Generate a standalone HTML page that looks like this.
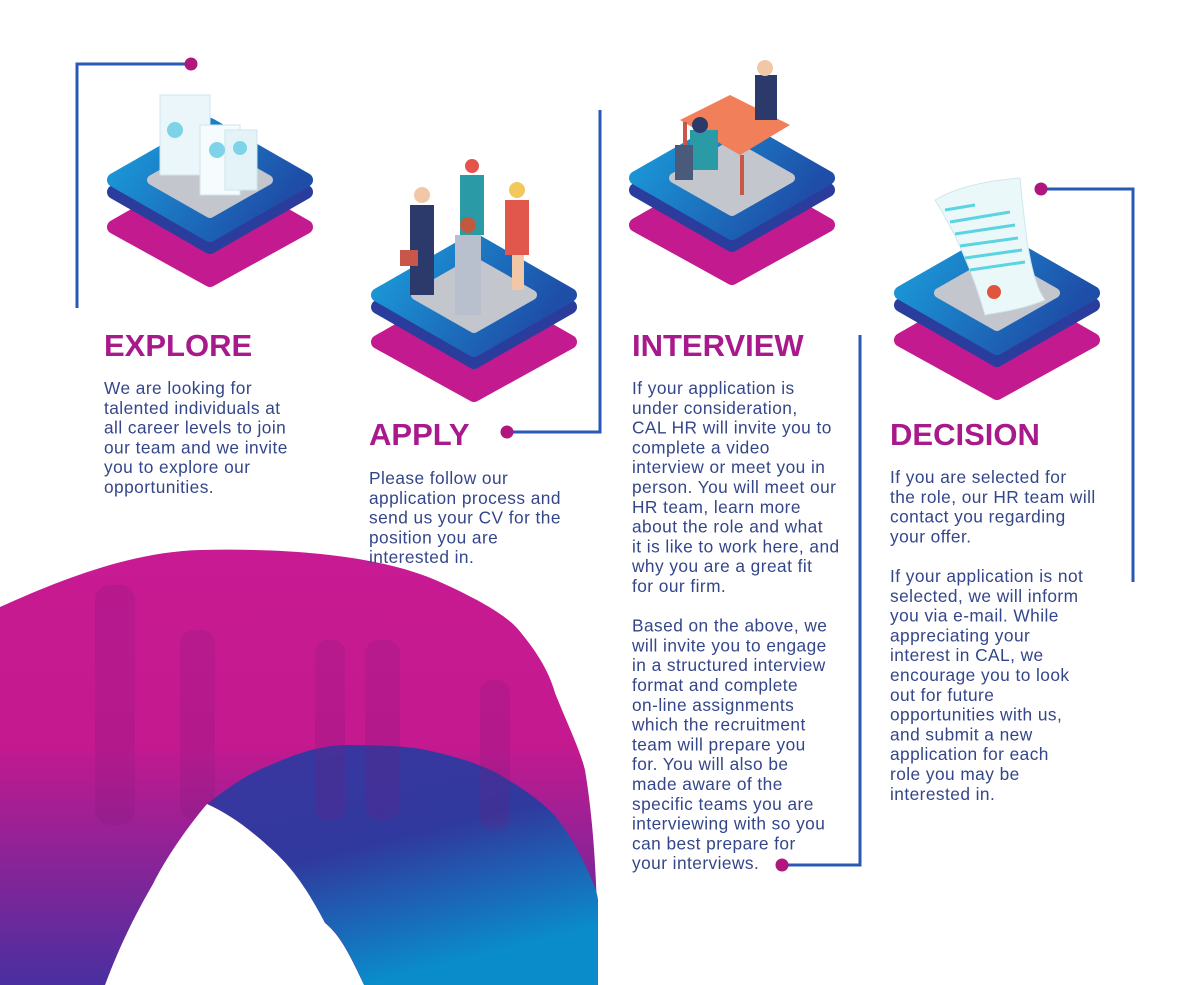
<!DOCTYPE html>
<html><head><meta charset="utf-8"><style>
html,body{margin:0;padding:0;background:#fff;}
svg{display:block;}
.h{font-family:"Liberation Sans",sans-serif;font-weight:bold;font-size:31px;fill:#a8198b;}
.b{font-family:"Liberation Sans",sans-serif;font-size:17.3px;letter-spacing:0.45px;fill:#34468a;}
</style></head><body>
<svg width="1200" height="985" viewBox="0 0 1200 985" xmlns="http://www.w3.org/2000/svg">
<defs>
<linearGradient id="mag" x1="0" y1="0" x2="0" y2="1">
<stop offset="0" stop-color="#c81a92"/><stop offset="0.45" stop-color="#c4198f"/><stop offset="1" stop-color="#4a2fa0"/>
</linearGradient>
<linearGradient id="blu" x1="0" y1="0" x2="0.4" y2="1">
<stop offset="0" stop-color="#3b36a0"/><stop offset="0.5" stop-color="#30399e"/><stop offset="1" stop-color="#0a8ccb"/>
</linearGradient>
<linearGradient id="top" x1="0" y1="0" x2="1" y2="0.4">
<stop offset="0" stop-color="#1aa0dc"/><stop offset="1" stop-color="#1e4ea8"/>
</linearGradient>
<g id="plat">
<polygon points="7,47 103,-8 199,47 103,100" fill="#c41a8f" stroke="#c41a8f" stroke-width="14" stroke-linejoin="round"/>
<polygon points="7,12 103,-43 199,12 103,67" fill="#2b3d9c" stroke="#2b3d9c" stroke-width="14" stroke-linejoin="round"/>
<polygon points="7,0 103,-55 199,0 103,55" fill="url(#top)" stroke="url(#top)" stroke-width="14" stroke-linejoin="round"/>
<polygon points="45,0 103,-33 161,0 103,33" fill="#c3c6cc" stroke="#c3c6cc" stroke-width="10" stroke-linejoin="round"/>
</g>
</defs>

<!-- bottom-left graphic -->
<path d="M0,607 C60,580 130,552 200,550 C290,548 380,555 440,582 C480,600 505,615 517,628 C540,655 550,675 555,693 C570,730 580,750 585,770 C595,830 598,900 598,985 L0,985 Z" fill="url(#mag)"/>
<path d="M207,804 C225,790 245,775 268,766 C300,752 320,746 344,745 C380,745 400,746 421,749 C450,755 475,762 497,773 C525,790 540,800 555,816 C570,835 578,850 585,865 C592,880 597,890 598,900 L598,985 L364,985 C345,940 330,925 325,923 C305,885 290,865 268,846 C245,825 225,812 207,804 Z" fill="url(#blu)"/>
<g fill="#7a1a7e" opacity="0.2">
<rect x="95" y="585" width="40" height="240" rx="15"/>
<rect x="180" y="630" width="35" height="190" rx="14"/>
<rect x="315" y="640" width="30" height="180" rx="12"/>
<rect x="365" y="640" width="35" height="180" rx="14"/>
<rect x="480" y="680" width="30" height="150" rx="12"/>
</g>
<path d="M207,804 C185,830 165,860 153,884 C135,915 120,945 105,985 L364,985 C350,955 340,935 325,923 C305,885 290,865 268,846 C245,825 225,812 207,804 Z" fill="#fff"/>

<!-- connectors -->
<g stroke="#2a58b5" stroke-width="3" fill="none">
<polyline points="77,308 77,64 190,64"/>
<polyline points="507,432 600,432 600,110"/>
<polyline points="860,335 860,865 782,865"/>
<polyline points="1041,189 1133,189 1133,582"/>
</g>
<g fill="#b0177e">
<circle cx="191" cy="64" r="6.5"/>
<circle cx="507" cy="432" r="6.5"/>
<circle cx="782" cy="865" r="6.5"/>
<circle cx="1041" cy="189" r="6.5"/>
</g>

<!-- platforms -->
<use href="#plat" x="107" y="180"/>
<use href="#plat" x="371" y="295"/>
<use href="#plat" x="629" y="178"/>
<use href="#plat" x="894" y="293"/>

<!-- illustrations: explore docs -->
<g>
<rect x="160" y="95" width="50" height="80" fill="#eaf6fa" stroke="#cfe6ee"/>
<rect x="200" y="125" width="40" height="70" fill="#f6fbfd" stroke="#cfe6ee"/>
<rect x="225" y="130" width="32" height="60" fill="#e3f3f7" stroke="#cfe6ee"/>
<circle cx="175" cy="130" r="8" fill="#7dd3e8"/>
<circle cx="217" cy="150" r="8" fill="#7dd3e8"/>
<circle cx="240" cy="148" r="7" fill="#7dd3e8"/>
</g>
<!-- apply people -->
<g>
<rect x="410" y="205" width="24" height="90" fill="#2b3a6a"/><circle cx="422" cy="195" r="8" fill="#f2c7a8"/>
<rect x="400" y="250" width="18" height="16" fill="#c8574a"/>
<rect x="460" y="175" width="24" height="60" fill="#2a9aa6"/><circle cx="472" cy="166" r="7" fill="#e5544b"/>
<rect x="455" y="235" width="26" height="80" fill="#b7c0cc"/><circle cx="468" cy="225" r="8" fill="#c05a3e"/>
<rect x="505" y="200" width="24" height="55" fill="#e2574c"/><rect x="512" y="255" width="12" height="35" fill="#f2c7a8"/><circle cx="517" cy="190" r="8" fill="#f3c85b"/>
</g>
<!-- interview desk -->
<g>
<polygon points="680,120 730,95 790,125 740,155" fill="#f07f5a"/>
<rect x="740" y="155" width="4" height="40" fill="#c8574a"/><rect x="683" y="122" width="4" height="35" fill="#c8574a"/>
<rect x="755" y="75" width="22" height="45" fill="#2b3a6a"/><circle cx="765" cy="68" r="8" fill="#f2c7a8"/>
<rect x="690" y="130" width="28" height="40" fill="#2a9aa6"/><circle cx="700" cy="125" r="8" fill="#2b3a6a"/>
<rect x="675" y="145" width="18" height="35" fill="#4a5a7a"/>
</g>
<!-- decision letter -->
<g>
<path d="M935,200 C960,185 995,180 1020,178 C1025,230 1030,280 1045,300 C1020,310 1000,312 985,315 C975,280 960,240 935,200 Z" fill="#eaf8fa" stroke="#cfe6ee"/>
<g stroke="#5cd3e0" stroke-width="3"><line x1="945" y1="210" x2="975" y2="205"/><line x1="950" y1="222" x2="1010" y2="212"/><line x1="955" y1="234" x2="1015" y2="225"/><line x1="960" y1="246" x2="1018" y2="238"/><line x1="965" y1="258" x2="1022" y2="250"/><line x1="970" y1="270" x2="1025" y2="262"/></g>
<circle cx="994" cy="292" r="7" fill="#e0553d"/>
</g>

<!-- headings -->
<text class="h" x="104" y="356">EXPLORE</text>
<text class="h" x="369" y="445">APPLY</text>
<text class="h" x="632" y="356">INTERVIEW</text>
<text class="h" x="890" y="445">DECISION</text>

<!-- bodies -->
<text class="b" x="104" y="394">
<tspan x="104">We are looking for</tspan>
<tspan x="104" dy="19.8">talented individuals at</tspan>
<tspan x="104" dy="19.8">all career levels to join</tspan>
<tspan x="104" dy="19.8">our team and we invite</tspan>
<tspan x="104" dy="19.8">you to explore our</tspan>
<tspan x="104" dy="19.8">opportunities.</tspan>
</text>
<text class="b" x="369" y="484">
<tspan x="369">Please follow our</tspan>
<tspan x="369" dy="19.8">application process and</tspan>
<tspan x="369" dy="19.8">send us your CV for the</tspan>
<tspan x="369" dy="19.8">position you are</tspan>
<tspan x="369" dy="19.8">interested in.</tspan>
</text>
<text class="b" x="632" y="394">
<tspan x="632">If your application is</tspan>
<tspan x="632" dy="19.8">under consideration,</tspan>
<tspan x="632" dy="19.8">CAL HR will invite you to</tspan>
<tspan x="632" dy="19.8">complete a video</tspan>
<tspan x="632" dy="19.8">interview or meet you in</tspan>
<tspan x="632" dy="19.8">person. You will meet our</tspan>
<tspan x="632" dy="19.8">HR team, learn more</tspan>
<tspan x="632" dy="19.8">about the role and what</tspan>
<tspan x="632" dy="19.8">it is like to work here, and</tspan>
<tspan x="632" dy="19.8">why you are a great fit</tspan>
<tspan x="632" dy="19.8">for our firm.</tspan>
<tspan x="632" dy="39.6">Based on the above, we</tspan>
<tspan x="632" dy="19.8">will invite you to engage</tspan>
<tspan x="632" dy="19.8">in a structured interview</tspan>
<tspan x="632" dy="19.8">format and complete</tspan>
<tspan x="632" dy="19.8">on-line assignments</tspan>
<tspan x="632" dy="19.8">which the recruitment</tspan>
<tspan x="632" dy="19.8">team will prepare you</tspan>
<tspan x="632" dy="19.8">for. You will also be</tspan>
<tspan x="632" dy="19.8">made aware of the</tspan>
<tspan x="632" dy="19.8">specific teams you are</tspan>
<tspan x="632" dy="19.8">interviewing with so you</tspan>
<tspan x="632" dy="19.8">can best prepare for</tspan>
<tspan x="632" dy="19.8">your interviews.</tspan>
</text>
<text class="b" x="890" y="483">
<tspan x="890">If you are selected for</tspan>
<tspan x="890" dy="19.8">the role, our HR team will</tspan>
<tspan x="890" dy="19.8">contact you regarding</tspan>
<tspan x="890" dy="19.8">your offer.</tspan>
<tspan x="890" dy="39.6">If your application is not</tspan>
<tspan x="890" dy="19.8">selected, we will inform</tspan>
<tspan x="890" dy="19.8">you via e-mail. While</tspan>
<tspan x="890" dy="19.8">appreciating your</tspan>
<tspan x="890" dy="19.8">interest in CAL, we</tspan>
<tspan x="890" dy="19.8">encourage you to look</tspan>
<tspan x="890" dy="19.8">out for future</tspan>
<tspan x="890" dy="19.8">opportunities with us,</tspan>
<tspan x="890" dy="19.8">and submit a new</tspan>
<tspan x="890" dy="19.8">application for each</tspan>
<tspan x="890" dy="19.8">role you may be</tspan>
<tspan x="890" dy="19.8">interested in.</tspan>
</text>
</svg>
</body></html>
